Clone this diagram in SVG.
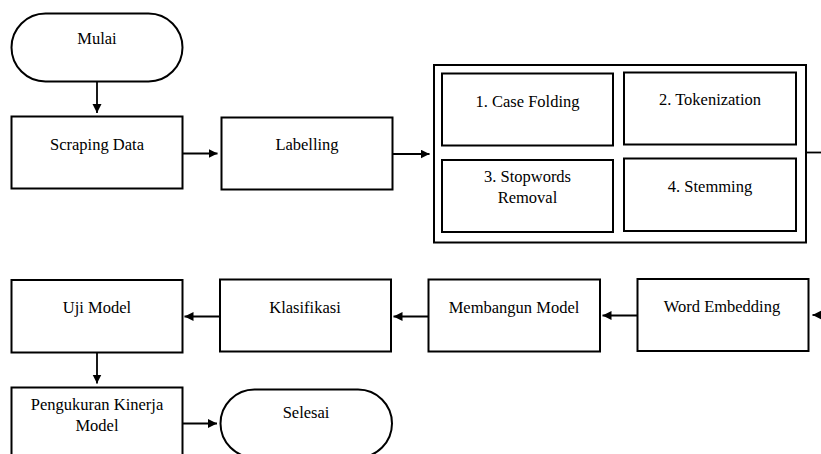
<svg xmlns="http://www.w3.org/2000/svg" width="821" height="454" viewBox="0 0 821 454">
<style>
.box{fill:#fff;stroke:#000;stroke-width:2}
.t{font-family:"Liberation Serif","Times New Roman",serif;font-size:16.5px;fill:#000;text-anchor:middle}
.c{fill:none;stroke:#000;stroke-width:1.8}
</style>
<defs>
<marker id="ah" markerUnits="userSpaceOnUse" markerWidth="10" markerHeight="10" refX="9" refY="4.5" orient="auto">
<path d="M0,0 L9,4.5 L0,9 z" fill="#000"/>
</marker>
</defs>
<rect width="821" height="454" fill="#fff"/>
<g id="mulai"><rect class="box" x="11.5" y="13.5" width="171" height="68" rx="34" ry="34"/><text class="t" x="97" y="44">Mulai</text></g>
<g id="scraping"><rect class="box" x="11.5" y="116.5" width="171" height="72"/><text class="t" x="97" y="150">Scraping Data</text></g>
<g id="labelling"><rect class="box" x="221.5" y="117.5" width="171" height="72"/><text class="t" x="307" y="150">Labelling</text></g>
<g id="preprocessing"><rect class="box" x="434" y="65" width="372" height="177.5"/>
<g id="casefolding"><rect class="box" x="442" y="73.5" width="171" height="72"/><text class="t" x="527.5" y="107">1. Case Folding</text></g>
<g id="tokenization"><rect class="box" x="624" y="72.5" width="172" height="72"/><text class="t" x="710" y="105">2. Tokenization</text></g>
<g id="stopwords"><rect class="box" x="442" y="160" width="171" height="72"/><text class="t" x="527.5" y="182">3. Stopwords</text><text class="t" x="527.5" y="203">Removal</text></g>
<g id="stemming"><rect class="box" x="624" y="158.5" width="172" height="72.5"/><text class="t" x="710" y="192">4. Stemming</text></g>
</g>
<g id="wordembedding"><rect class="box" x="637.5" y="279" width="171" height="72"/><text class="t" x="722" y="312">Word Embedding</text></g>
<g id="membangun"><rect class="box" x="428.5" y="279.5" width="171.5" height="72"/><text class="t" x="514" y="313">Membangun Model</text></g>
<g id="klasifikasi"><rect class="box" x="220" y="279.5" width="171" height="72"/><text class="t" x="305" y="313">Klasifikasi</text></g>
<g id="ujimodel"><rect class="box" x="11.5" y="280" width="171" height="72.5"/><text class="t" x="97" y="313">Uji Model</text></g>
<g id="pengukuran"><rect class="box" x="11.5" y="387.5" width="171" height="72"/><text class="t" x="97" y="410">Pengukuran Kinerja</text><text class="t" x="97" y="431">Model</text></g>
<g id="selesai"><rect class="box" x="220.5" y="389.5" width="171.5" height="68" rx="34" ry="34"/><text class="t" x="306" y="418">Selesai</text></g>
<g id="connectors">
<line class="c" x1="97" y1="81.5" x2="97" y2="113" marker-end="url(#ah)"/>
<line class="c" x1="182.5" y1="153.5" x2="217.5" y2="153.5" marker-end="url(#ah)"/>
<line class="c" x1="392.5" y1="154" x2="429.5" y2="154" marker-end="url(#ah)"/>
<line class="c" x1="806" y1="152.5" x2="821" y2="152.5"/>
<line class="c" x1="821" y1="315" x2="812.5" y2="315" marker-end="url(#ah)"/>
<line class="c" x1="637.5" y1="315.5" x2="602.5" y2="315.5" marker-end="url(#ah)"/>
<line class="c" x1="428.5" y1="316.5" x2="393.5" y2="316.5" marker-end="url(#ah)"/>
<line class="c" x1="220" y1="316.5" x2="184.5" y2="316.5" marker-end="url(#ah)"/>
<line class="c" x1="97" y1="352.5" x2="97" y2="383.5" marker-end="url(#ah)"/>
<line class="c" x1="182.5" y1="423.5" x2="217" y2="423.5" marker-end="url(#ah)"/>
</g>
</svg>
